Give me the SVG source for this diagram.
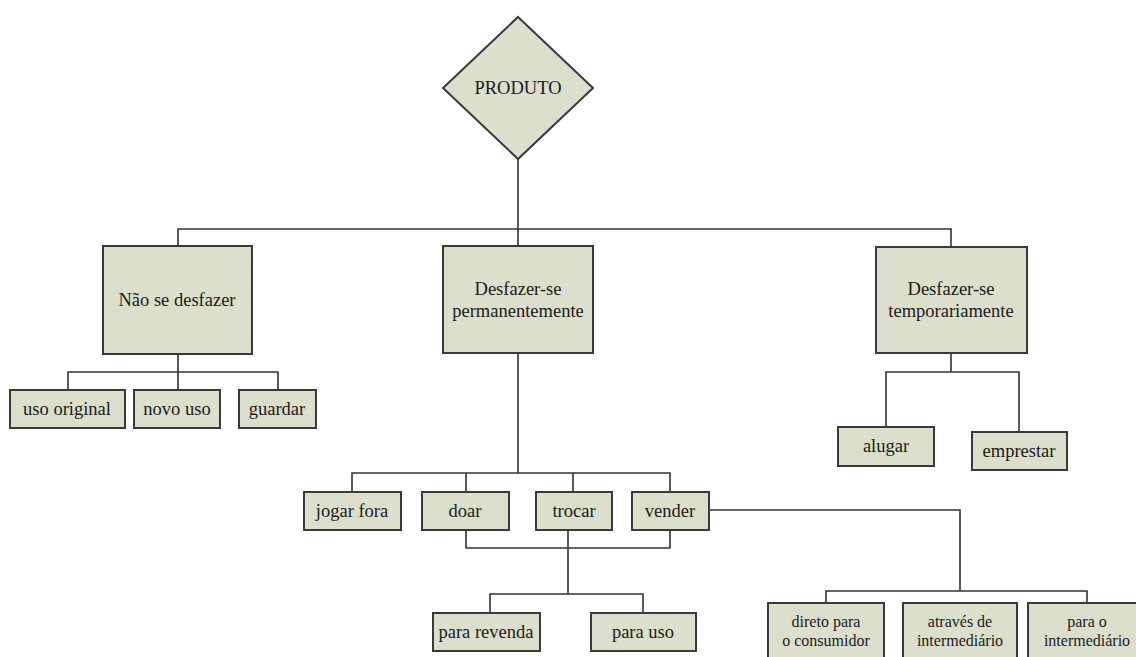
<svg xmlns="http://www.w3.org/2000/svg" width="1136" height="657" viewBox="0 0 1136 657">
<style>
.n{fill:#dcdfcc;stroke:#3a3a3a;stroke-width:2}
text{font-family:'Liberation Serif','Times New Roman',serif;font-size:18.5px;fill:#1a1a1a;text-anchor:middle}
.s{font-size:16px}
#connectors path{fill:none;stroke:#333;stroke-width:1.6}
</style>
<rect width="1136" height="657" fill="#fff"/>
<g id="connectors">
<path d="M518 159V229M178 246V229H951V247"/>
<path d="M518 229V246"/>
<path d="M178 354V372M68 390V372H278V390M178 372V390"/>
<path d="M518 353V473M352 492V473H670V492M466 473V492M573 473V492"/>
<path d="M466 530V548H670V530M568 530V594M490 613V594H643V613"/>
<path d="M709 510H960V591M826 603V591H1087V603"/>
<path d="M951 353V372M886 427V372H1019V432"/>
</g>
<g id="produto"><polygon class="n" points="518,17 593,88 518,159 443,88"/><text x="518" y="94">PRODUTO</text></g>
<g id="nao"><rect class="n" x="103" y="246" width="149" height="108"/><text x="177" y="306">Não se desfazer</text></g>
<g id="perm"><rect class="n" x="443" y="246" width="150" height="107"/><text x="518" y="295">Desfazer-se</text><text x="518" y="317">permanentemente</text></g>
<g id="temp"><rect class="n" x="876" y="247" width="151" height="106"/><text x="951" y="295">Desfazer-se</text><text x="951" y="317">temporariamente</text></g>
<g id="uso-original"><rect class="n" x="10" y="390" width="115" height="38"/><text x="67" y="415">uso original</text></g>
<g id="novo-uso"><rect class="n" x="134" y="390" width="86" height="38"/><text x="177" y="415">novo uso</text></g>
<g id="guardar"><rect class="n" x="239" y="390" width="77" height="38"/><text x="277" y="415">guardar</text></g>
<g id="alugar"><rect class="n" x="838" y="427" width="96" height="39"/><text x="886" y="452">alugar</text></g>
<g id="emprestar"><rect class="n" x="972" y="432" width="95" height="38"/><text x="1019" y="457">emprestar</text></g>
<g id="jogar-fora"><rect class="n" x="304" y="492" width="97" height="38"/><text x="352" y="517">jogar fora</text></g>
<g id="doar"><rect class="n" x="422" y="492" width="87" height="38"/><text x="465" y="517">doar</text></g>
<g id="trocar"><rect class="n" x="536" y="492" width="76" height="38"/><text x="574" y="517">trocar</text></g>
<g id="vender"><rect class="n" x="632" y="492" width="77" height="38"/><text x="670" y="517">vender</text></g>
<g id="para-revenda"><rect class="n" x="433" y="613" width="107" height="38"/><text x="486" y="638">para revenda</text></g>
<g id="para-uso"><rect class="n" x="591" y="613" width="105" height="38"/><text x="643" y="638">para uso</text></g>
<g id="direto"><rect class="n" x="768" y="603" width="116" height="62"/><text class="s" x="826" y="627">direto para</text><text class="s" x="826" y="646">o consumidor</text></g>
<g id="atraves"><rect class="n" x="903" y="603" width="114" height="62"/><text class="s" x="960" y="627">através de</text><text class="s" x="960" y="646">intermediário</text></g>
<g id="para-o"><rect class="n" x="1028" y="603" width="118" height="62"/><text class="s" x="1087" y="627">para o</text><text class="s" x="1087" y="646">intermediário</text></g>
</svg>
